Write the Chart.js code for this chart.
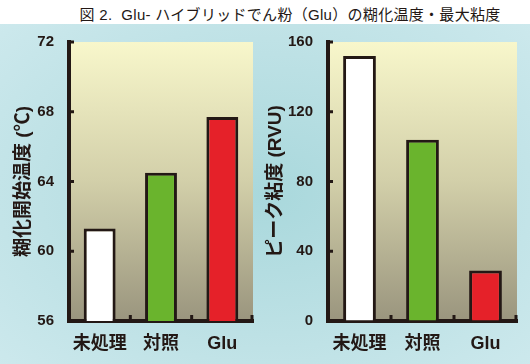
<!DOCTYPE html>
<html>
<head>
<meta charset="utf-8">
<script src="https://cdn.jsdelivr.net/npm/chart.js@4/dist/chart.umd.min.js"></script>
<style>
    body { margin: 0; width: 530px; height: 364px; overflow: hidden; background: #ffffff; position: relative; }
    #bg { position: absolute; left: 0; top: 24px; width: 530px; height: 340px;
          background: radial-gradient(ellipse 70% 75% at 50% 50%, #a9d8dc 0%, #bde1e5 55%, #cde9ed 100%); }
    #title { position: absolute; left: 0; top: 3px; width: 580px; text-align: center; white-space: pre;
             font: 15px 'Liberation Sans', 'Noto Sans CJK JP', sans-serif; letter-spacing: 0.3px; color: #231815; }
    canvas { position: absolute; top: 24px; }
</style>
</head>
<body>
<div id="bg"></div>
<div id="title">図 2.  Glu- ハイブリッドでん粉（Glu）の糊化温度・最大粘度</div>
<canvas id="tempChart" width="265" height="340" style="left:0px"></canvas>
<canvas id="viscChart" width="268" height="340" style="left:262px"></canvas>
<script>
var categories = ['未処理', '対照', 'Glu'];
var gelTemp = [61.3, 64.5, 67.7];
var peakVisc = [152, 104, 29];
var barColors = ['#ffffff', '#6ab42d', '#e52129'];
var tempTicks = [56, 60, 64, 68, 72];
var viscTicks = [0, 40, 80, 120, 160];

var ink = '#231815';
var labelFont = "'Liberation Sans', 'Noto Sans CJK JP', sans-serif";

// yellow-to-grey fill behind the bars
var plotBg = {
    id: 'plotBg',
    beforeDraw: function (chart) {
        var a = chart.chartArea;
        var ctx = chart.ctx;
        var g = ctx.createLinearGradient(0, a.top, 0, a.bottom);
        g.addColorStop(0, '#f8f7cb');
        g.addColorStop(0.5, '#d2cfa9');
        g.addColorStop(1, '#9a957e');
        ctx.save();
        ctx.fillStyle = g;
        ctx.fillRect(a.left, a.top, a.right - a.left, a.bottom - a.top);
        ctx.restore();
    }
};

// small tick marks pointing into the plot
var innerTicks = {
    id: 'innerTicks',
    afterDraw: function (chart) {
        var a = chart.chartArea;
        var ctx = chart.ctx;
        var x = chart.scales.x;
        var y = chart.scales.y;
        ctx.save();
        ctx.strokeStyle = ink;
        ctx.lineWidth = 3;
        ctx.beginPath();
        y.ticks.forEach(function (t) {
            var py = y.getPixelForValue(t.value);
            ctx.moveTo(a.left, py);
            ctx.lineTo(a.left + 5, py);
        });
        for (var i = 0; i < categories.length; i++) {
            var px;
            if (i < categories.length - 1) {
                px = (x.getPixelForTick(i) + x.getPixelForTick(i + 1)) / 2;
            } else {
                px = a.right - 1;
            }
            ctx.moveTo(px, a.bottom);
            ctx.lineTo(px, a.bottom - 6);
        }
        ctx.stroke();
        ctx.restore();
    }
};

function makeChart(id, values, tickList, titleText, yWidth, padRight, titlePad) {
    var ctx = document.getElementById(id).getContext('2d');
    return new Chart(ctx, {
        type: 'bar',
        data: {
            labels: categories,
            datasets: [{
                data: values,
                backgroundColor: barColors,
                borderColor: ink,
                borderWidth: 3,
                barPercentage: 0.52,
                categoryPercentage: 1
            }]
        },
        options: {
            responsive: false,
            animation: false,
            devicePixelRatio: 1,
            layout: { padding: { left: 0, right: padRight, top: 18, bottom: 0 } },
            plugins: {
                legend: { display: false },
                tooltip: { enabled: false }
            },
            scales: {
                x: {
                    z: 1,
                    offset: true,
                    grid: { display: true, drawOnChartArea: false, drawTicks: false, color: 'rgba(0,0,0,0)' },
                    border: { display: true, color: ink, width: 4 },
                    ticks: {
                        padding: 12,
                        color: ink,
                        font: { family: labelFont, size: 18, weight: 'bold' },
                        maxRotation: 0
                    },
                    afterFit: function (scale) { scale.height = 43; }
                },
                y: {
                    z: 1,
                    min: tickList[0],
                    max: tickList[tickList.length - 1],
                    // invisible outer ticks just push the labels away from the axis
                    grid: { display: true, drawOnChartArea: false, drawTicks: true, tickLength: 15, color: 'rgba(0,0,0,0)' },
                    border: { display: true, color: ink, width: 4 },
                    afterBuildTicks: function (scale) {
                        scale.ticks = tickList.map(function (v) { return { value: v }; });
                    },
                    ticks: {
                        padding: 0,
                        color: ink,
                        font: { family: labelFont, size: 15, weight: 'bold' }
                    },
                    title: {
                        display: true,
                        text: titleText,
                        color: ink,
                        padding: titlePad,
                        font: { family: labelFont, size: 19, weight: 'bold' }
                    },
                    afterFit: function (scale) { scale.width = yWidth; }
                }
            }
        },
        plugins: [plotBg, innerTicks]
    });
}

makeChart('tempChart', gelTemp, tempTicks, '糊化開始温度 (℃)', 69, 12, 12);
makeChart('viscChart', peakVisc, viscTicks, 'ピーク粘度 (RVU)', 66, 13, 2);
</script>
</body>
</html>
